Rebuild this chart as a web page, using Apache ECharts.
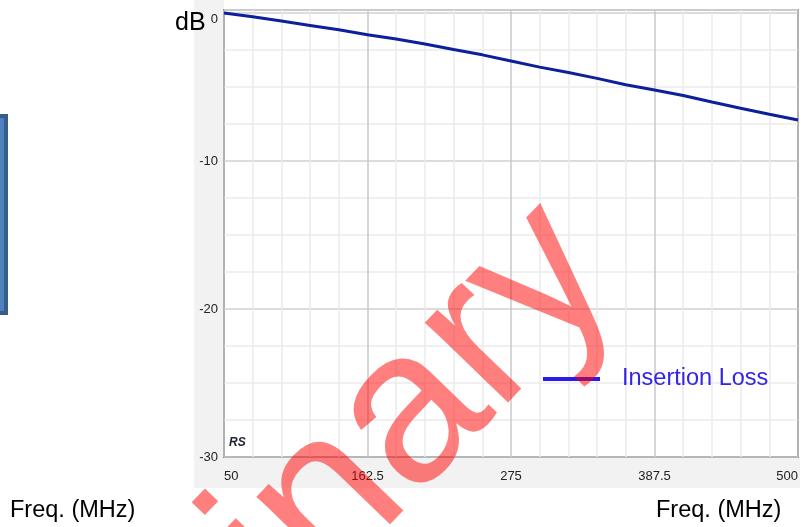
<!DOCTYPE html>
<html>
<head>
<meta charset="utf-8">
<script src="https://cdn.jsdelivr.net/npm/echarts@6/dist/echarts.min.js"></script>
<style>
  html, body { margin: 0; padding: 0; background: #fff; }
  #myCharts { width: 811px; height: 527px; }
</style>
</head>
<body>
<div id="myCharts"></div>
<script>
// frequency points (MHz) and insertion loss (dB)
var freq = [50, 72.5, 95, 117.5, 140, 162.5, 185, 207.5, 230, 252.5, 275,
  297.5, 320, 342.5, 365, 387.5, 410, 432.5, 455, 477.5, 500];
var insertionLoss = [0, -0.26, -0.55, -0.84, -1.13, -1.47, -1.76, -2.1, -2.47, -2.83, -3.24,
  -3.66, -4.02, -4.42, -4.85, -5.2, -5.58, -6.02, -6.44, -6.84, -7.23];

// axis ticks
var xGridTicks = [50, 72.5, 95, 117.5, 140, 162.5, 185, 207.5, 230, 252.5, 275,
  297.5, 320, 342.5, 365, 387.5, 410, 432.5, 455, 477.5, 500];
var xLabels = [50, 162.5, 275, 387.5, 500];
var yLabels = [-30, -20, -10, 0];

var seriesName = "Insertion Loss";

var myChart = echarts.init(document.getElementById("myCharts"));
var narrow = "'Liberation Sans Narrow', 'Liberation Sans', sans-serif";
var arial = "'Liberation Sans', Arial, sans-serif";

var option = {
  animation: false,
  grid: {
    left: 224,
    top: 10,
    right: 13,
    bottom: 70,
    show: true,
    backgroundColor: "#ffffff",
    borderColor: "#3a3f4a",
    borderWidth: 1.5
  },
  legend: {
    left: 543,
    top: 367,
    padding: 0,
    icon: "rect",
    itemWidth: 57,
    itemHeight: 4,
    data: [{ name: seriesName, itemStyle: { color: "#2b1be8" } }],
    textStyle: {
      color: "#3424e6",
      fontSize: 23.5,
      fontFamily: arial,
      padding: [0, 0, 0, 17]
    }
  },
  xAxis: {
    type: "value",
    min: 50,
    max: 500,
    axisLine: { show: false },
    axisTick: { show: false, customValues: xGridTicks },
    axisLabel: {
      customValues: xLabels,
      margin: 13,
      color: "#222",
      fontSize: 13,
      fontFamily: narrow,
      alignMinLabel: "left",
      alignMaxLabel: "right"
    },
    splitLine: {
      show: true,
      lineStyle: {
        color: ["#c8c8c8", "#ebebeb", "#ebebeb", "#ebebeb", "#ebebeb"],
        width: 1.5
      }
    }
  },
  yAxis: {
    type: "value",
    min: -30,
    max: 0.2,
    interval: 2.5,
    axisLine: { show: false },
    axisTick: { show: false },
    axisLabel: {
      customValues: yLabels,
      margin: 6,
      color: "#222",
      fontSize: 13,
      fontFamily: narrow,
      verticalAlignMaxLabel: "top"
    },
    splitLine: {
      show: true,
      lineStyle: {
        color: ["#d0d0d0", "#ebebeb", "#ebebeb", "#ebebeb"],
        width: 1.5
      }
    }
  },
  graphic: [
    // grey panel behind the axis labels
    { type: "rect", z: -10, shape: { x: 194, y: 0, width: 30, height: 488 }, style: { fill: "#f2f2f2" } },
    { type: "rect", z: -10, shape: { x: 194, y: 457, width: 606, height: 31 }, style: { fill: "#f2f2f2" } },
    // blue box cut by the left edge
    { type: "rect", shape: { x: -50, y: 116, width: 56, height: 197 },
      style: { fill: "#4f81bd", stroke: "#385d8a", lineWidth: 4 } },
    { type: "text", x: 175, y: 23,
      style: { text: "dB", fill: "#000", fontSize: 25, fontFamily: arial,
        textVerticalAlign: "middle", verticalAlign: "middle" } },
    { type: "text", x: 10, y: 511,
      style: { text: "Freq. (MHz)", fill: "#000", fontSize: 23.5, fontFamily: arial,
        textVerticalAlign: "middle", verticalAlign: "middle" } },
    { type: "text", x: 656, y: 511,
      style: { text: "Freq. (MHz)", fill: "#000", fontSize: 23.5, fontFamily: arial,
        textVerticalAlign: "middle", verticalAlign: "middle" } },
    { type: "text", x: 229, y: 443, z: 10,
      style: { text: "RS", fill: "#1e2230", fontSize: 12, fontWeight: "bold", fontStyle: "italic",
        fontFamily: narrow, textVerticalAlign: "middle", verticalAlign: "middle" } },
    // watermark
    { type: "text", x: -177, y: 1025, z: 100, rotation: 46 * Math.PI / 180,
      style: { text: "Preliminary", fill: "rgba(255,0,0,0.5)", fontSize: 218,
        fontFamily: arial, textAlign: "left", align: "left",
        textVerticalAlign: "middle", verticalAlign: "middle" } }
  ],
  series: [
    {
      name: seriesName,
      type: "line",
      showSymbol: false,
      data: freq.map(function (f, i) { return [f, insertionLoss[i]]; }),
      lineStyle: { color: "#0c1f9c", width: 3 },
      itemStyle: { color: "#0c1f9c" }
    }
  ]
};
myChart.setOption(option);
</script>
</body>
</html>
